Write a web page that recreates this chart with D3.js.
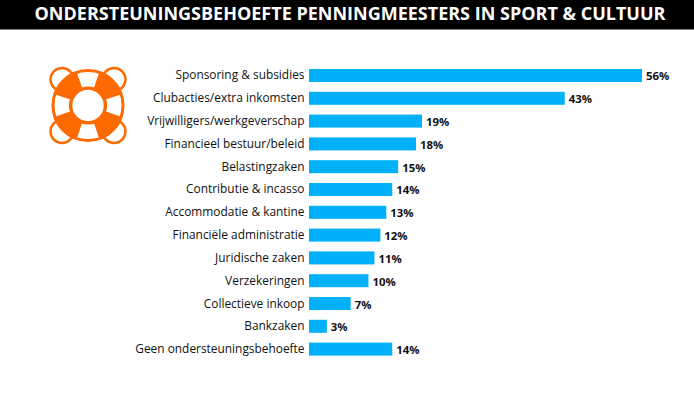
<!DOCTYPE html>
<html>
<head>
<meta charset="utf-8">
<script src="https://cdn.jsdelivr.net/npm/d3@7"></script>
<style>
	html, body { margin: 0; padding: 0; background: #fff; }
	text { font-family: "Open Sans", sans-serif; }
</style>
</head>
<body>
<div id="chart"></div>
<script>
var titleText = "ONDERSTEUNINGSBEHOEFTE PENNINGMEESTERS IN SPORT & CULTUUR";

var categories = ["Sponsoring & subsidies", "Clubacties/extra inkomsten", "Vrijwilligers/werkgeverschap",
	"Financieel bestuur/beleid", "Belastingzaken", "Contributie & incasso", "Accommodatie & kantine",
	"Financiële administratie", "Juridische zaken", "Verzekeringen", "Collectieve inkoop", "Bankzaken",
	"Geen ondersteuningsbehoefte"];
var values = [56, 43, 19, 18, 15, 14, 13, 12, 11, 10, 7, 3, 14];

var orange = "#ff6a00";
var blue = "#00b0f8";

var svg = d3.select("#chart").append("svg")
	.attr("width", 694)
	.attr("height", 394)
	.style("display", "block");

// title bar
svg.append("rect")
	.attr("width", 694)
	.attr("height", 29.5)
	.attr("fill", "#000");

svg.append("text")
	.attr("x", 350)
	.attr("y", 19.5)
	.attr("text-anchor", "middle")
	.attr("fill", "#fff")
	.style("font-size", "18px")
	.style("font-weight", 700)
	.text(titleText);

// bars
var x = d3.scaleLinear().domain([0, 56]).range([309, 642]);
var y = d3.scaleBand()
	.domain(categories)
	.range([69, 355.6])
	.paddingInner(0.43)
	.paddingOuter(0);

svg.selectAll(".bar")
	.data(categories)
	.enter().append("rect")
	.attr("class", "bar")
	.attr("x", x(0))
	.attr("y", function(d) { return y(d); })
	.attr("width", function(d, i) { return x(values[i]) - x(0); })
	.attr("height", y.bandwidth())
	.attr("fill", blue);

svg.selectAll(".label")
	.data(categories)
	.enter().append("text")
	.attr("class", "label")
	.attr("x", x(0) - 4.5)
	.attr("y", function(d) { return y(d) + y.bandwidth() / 2 + 4; })
	.attr("text-anchor", "end")
	.attr("fill", "#111")
	.style("font-size", "11.9px")
	.text(function(d) { return d; });

svg.selectAll(".value")
	.data(categories)
	.enter().append("text")
	.attr("class", "value")
	.attr("x", function(d, i) { return x(values[i]) + 4; })
	.attr("y", function(d) { return y(d) + y.bandwidth() / 2 + 5; })
	.attr("fill", "#111")
	.style("font-size", "11.4px")
	.style("font-weight", 700)
	.text(function(d, i) { return values[i] + "%"; });

// lifebuoy icon
var icon = svg.append("g").attr("transform", "translate(88,105.5)");

[[-1, -1], [1, -1], [-1, 1], [1, 1]].forEach(function(c) {
	icon.append("circle")
		.attr("cx", c[0] * 26)
		.attr("cy", c[1] * 26)
		.attr("r", 11.5)
		.attr("fill", "#fff")
		.attr("stroke", orange)
		.attr("stroke-width", 2.4);
});

icon.append("circle").attr("r", 35).attr("fill", "#fff").attr("stroke", orange).attr("stroke-width", 3);

var arc = d3.arc().innerRadius(18).outerRadius(36);
[0, 1, 2, 3].forEach(function(i) {
	var mid = Math.PI / 4 + i * Math.PI / 2;
	icon.append("path")
		.attr("d", arc({ startAngle: mid - 0.46, endAngle: mid + 0.46 }))
		.attr("fill", orange);
});

icon.append("circle").attr("r", 17.4).attr("fill", "#fff").attr("stroke", orange).attr("stroke-width", 3.4);
</script>
</body>
</html>
